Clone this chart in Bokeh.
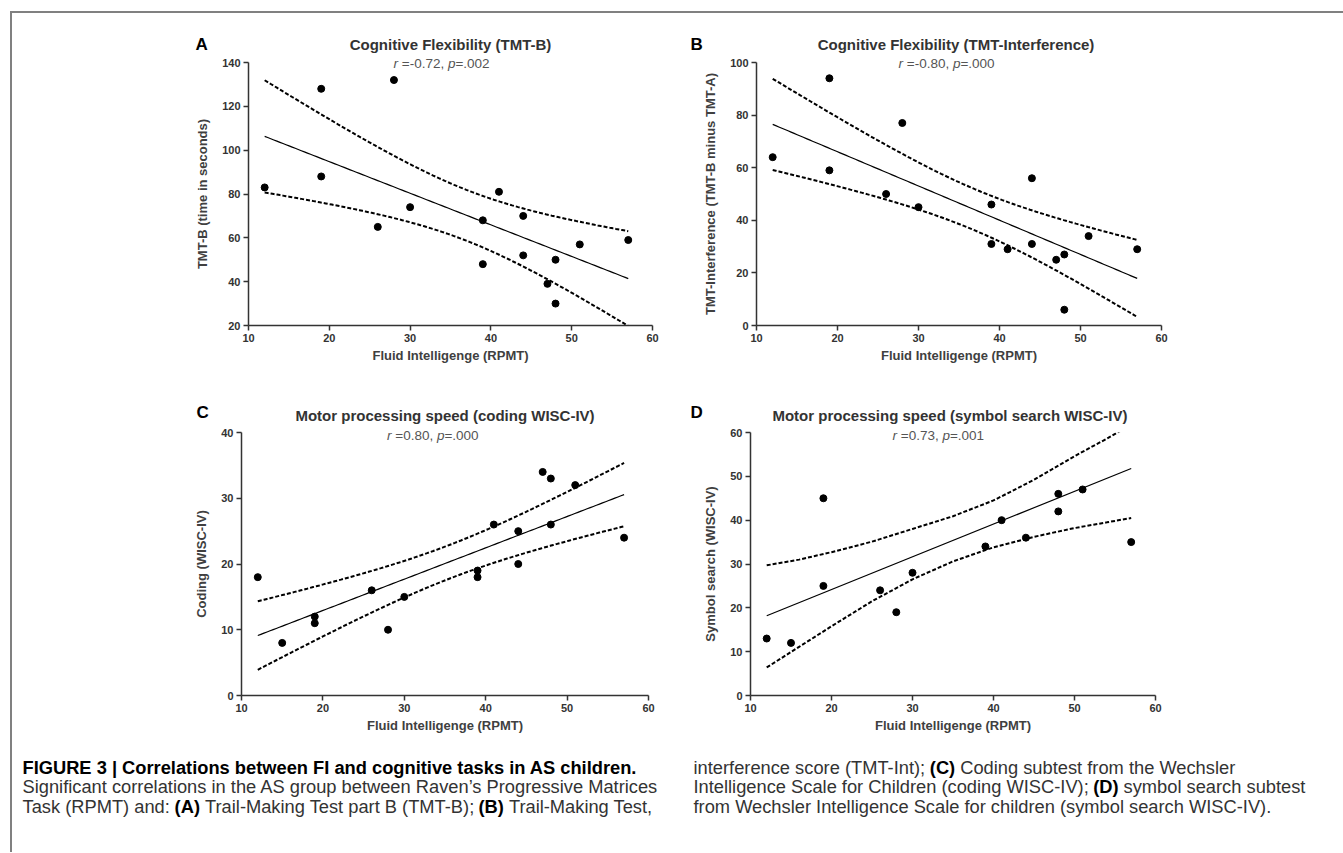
import glob
import numpy as np
from bokeh.plotting import figure
from bokeh.models import Range1d, FixedTicker, GridBox, Spacer
from bokeh.layouts import row, column
from bokeh.embed import file_html
from bokeh.resources import INLINE
from bokeh.core.properties import value

# ---------------- data ----------------
rpmt_a = [12, 19, 19, 26, 28, 30, 39, 39, 41, 44, 44, 47, 48, 48, 51, 57]
tmt_b = [83, 128, 88, 65, 132, 74, 68, 48, 81, 70, 52, 39, 50, 30, 57, 59]

rpmt_b = [12, 19, 19, 26, 28, 30, 39, 39, 41, 44, 44, 47, 48, 48, 51, 57]
tmt_int = [64, 94, 59, 50, 77, 45, 46, 31, 29, 56, 31, 25, 27, 6, 34, 29]

rpmt_c = [12, 15, 19, 19, 26, 28, 30, 39, 39, 41, 44, 44, 47, 48, 48, 51, 57]
coding = [18, 8, 12, 11, 16, 10, 15, 19, 18, 26, 25, 20, 34, 33, 26, 32, 24]

rpmt_d = [12, 15, 19, 19, 26, 28, 30, 39, 41, 44, 48, 48, 51, 57]
symbol = [13, 12, 45, 25, 24, 19, 28, 34, 40, 36, 46, 42, 47, 35]

# panel D: fitted line and 95% band as drawn in the picture
band_x_d = [12, 16, 20, 25, 30, 35, 40, 45, 50, 54, 57]
band_lo_d = [6.4, 11.1, 15.8, 21.5, 26.5, 30.6, 33.8, 36.2, 38.2, 39.5, 40.5]
band_hi_d = [29.7, 31.0, 32.7, 35.1, 38.0, 40.9, 44.5, 49.2, 54.6, 58.6, 61.8]
fit_x_d = [12, 57]
fit_y_d = [18.2, 51.8]

x_ticks = [10, 20, 30, 40, 50, 60]
y_ticks_a = [20, 40, 60, 80, 100, 120, 140]
y_ticks_b = [0, 20, 40, 60, 80, 100]
y_ticks_c = [0, 10, 20, 30, 40]
y_ticks_d = [0, 10, 20, 30, 40, 50, 60]

titles = ["Cognitive Flexibility (TMT-B)",
          "Cognitive Flexibility (TMT-Interference)",
          "Motor processing speed (coding WISC-IV)",
          "Motor processing speed (symbol search WISC-IV)"]
r_values = ["-0.72", "-0.80", "0.80", "0.73"]
p_values = [".002", ".000", ".000", ".001"]
y_labels = ["TMT-B (time in seconds)", "TMT-Interference (TMT-B minus TMT-A)",
            "Coding (WISC-IV)", "Symbol search (WISC-IV)"]
x_label = "Fluid Intelligenge (RPMT)"
letters = ["A", "B", "C", "D"]

# caption rows: list of (text, bold) runs
caption_left = [
    [("FIGURE 3 | Correlations between FI and cognitive tasks in AS children.", True)],
    [("Significant correlations in the AS group between Raven\u2019s Progressive Matrices", False)],
    [("Task (RPMT) and: ", False), ("(A)", True), (" Trail-Making Test part B (TMT-B); ", False),
     ("(B)", True), (" Trail-Making Test,", False)],
]
caption_right = [
    [("interference score (TMT-Int); ", False), ("(C)", True),
     (" Coding subtest from the Wechsler", False)],
    [("Intelligence Scale for Children (coding WISC-IV); ", False), ("(D)", True),
     (" symbol search subtest", False)],
    [("from Wechsler Intelligence Scale for children (symbol search WISC-IV).", False)],
]

# two-sided 95% t critical values by degrees of freedom
T_CRIT = {12: 2.1788, 13: 2.1604, 14: 2.1448, 15: 2.1314}

FONT = "Liberation Sans"
AXIS_COL = "#333333"

# ---------------- font metrics (for placing mixed-style runs) ----------------
try:
    from PIL import ImageFont
except Exception:
    ImageFont = None


def _find(name):
    hits = glob.glob("/usr/share/fonts/**/" + name, recursive=True)
    return hits[0] if hits else None


FONT_FILES = {"normal": _find("LiberationSans-Regular.ttf"),
              "bold": _find("LiberationSans-Bold.ttf"),
              "italic": _find("LiberationSans-Italic.ttf")}
_cache = {}


def run_width(txt, style, size):
    path = FONT_FILES.get(style)
    if ImageFont is not None and path:
        key = (path, size)
        if key not in _cache:
            _cache[key] = ImageFont.truetype(path, int(round(size * 8)))
        return _cache[key].getlength(txt) / 8.0
    return len(txt) * size * (0.56 if style == "bold" else 0.5)


DASH = dict(line_color="black", line_width=2, line_dash="4 2")
SOLID = dict(line_color="black", line_width=1.2)


def panel(x, y, yr, yticks, idx, fw, fh, bl, br, bt, bb, drawn=None):
    p = figure(frame_width=fw, frame_height=fh,
               min_border_left=bl, min_border_right=br,
               min_border_top=bt, min_border_bottom=bb,
               x_range=Range1d(10, 60), y_range=Range1d(*yr),
               output_backend="svg", toolbar_location=None, title=None)
    p.outline_line_color = None
    p.grid.visible = False
    p.background_fill_color = "white"
    p.border_fill_color = "white"

    for ax in (p.xaxis[0], p.yaxis[0]):
        ax.axis_line_color = AXIS_COL
        ax.axis_line_width = 1.5
        ax.major_tick_line_color = AXIS_COL
        ax.major_tick_line_width = 1.5
        ax.major_tick_in = 0
        ax.major_tick_out = 5
        ax.minor_tick_line_color = None
        ax.major_label_text_font = FONT
        ax.major_label_text_font_style = "bold"
        ax.major_label_text_font_size = "11px"
        ax.major_label_text_color = "#333333"
        ax.axis_label_text_font = FONT
        ax.axis_label_text_font_style = "bold"
        ax.axis_label_text_font_size = "13px"
        ax.axis_label_text_color = "#404040"
    p.xaxis.ticker = FixedTicker(ticks=x_ticks)
    p.yaxis.ticker = FixedTicker(ticks=yticks)
    p.xaxis.major_label_standoff = 3
    p.xaxis.axis_label_standoff = 3
    p.yaxis.major_label_standoff = 3
    p.yaxis.axis_label_standoff = 9
    p.xaxis.axis_label = x_label
    p.yaxis.axis_label = y_labels[idx]

    if drawn is None:
        # regression line and its 95% confidence band, computed from the points
        xa = np.array(x, float)
        ya = np.array(y, float)
        n = len(xa)
        slope, icpt = np.polyfit(xa, ya, 1)
        resid = ya - (icpt + slope * xa)
        s = np.sqrt(np.sum(resid ** 2) / (n - 2))
        sxx = np.sum((xa - xa.mean()) ** 2)
        xs = np.linspace(xa.min(), xa.max(), 120)
        fit = icpt + slope * xs
        half = T_CRIT[n - 2] * s * np.sqrt(1.0 / n + (xs - xa.mean()) ** 2 / sxx)
        p.line(xs, fit + half, **DASH)
        p.line(xs, fit - half, **DASH)
        p.line(xs, fit, **SOLID)
    else:
        bx, lo, hi, fx, fy = drawn
        p.line(bx, hi, **DASH)
        p.line(bx, lo, **DASH)
        p.line(fx, fy, **SOLID)
    p.scatter(x, y, size=7, fill_color="black", line_color="black")
    return p


pa = panel(rpmt_a, tmt_b, (20, 140), y_ticks_a, 0, 404, 263, 236, 48, 49, 45)
pb = panel(rpmt_b, tmt_int, (0, 100), y_ticks_b, 1, 405, 263, 53, 185, 49, 45)
pc = panel(rpmt_c, coding, (0, 40), y_ticks_c, 2, 407, 263, 229, 52, 62, 45)
pd = panel(rpmt_d, symbol, (0, 60), y_ticks_d, 3, 405, 263, 47, 191, 62, 45,
           drawn=(band_x_d, band_lo_d, band_hi_d, fit_x_d, fit_y_d))

W, H = 1331, 839
CAP_H = H - 357 - 370
panels = column(row(pa, pb), row(pc, pd), Spacer(width=W, height=CAP_H))

# ---------------- transparent text layer over the panels ----------------
OX, OY = 12, 13          # page position of the layer's top-left corner
ov = figure(width=W, height=H, x_range=Range1d(0, W), y_range=Range1d(H, 0),
            output_backend="svg", toolbar_location=None, title=None,
            x_axis_type=None, y_axis_type=None, min_border=0)
ov.outline_line_color = None
ov.grid.visible = False
ov.background_fill_color = None
ov.border_fill_color = None


def put(txt, px, py, style, size, color, align="left"):
    ov.text(x=[px - OX], y=[py - OY], text=[txt], text_font=value(FONT),
            text_font_style=style, text_font_size=f"{size}px",
            text_color=color, text_baseline="middle", text_align=align)


# panel letters, titles and r/p statistics (page pixel positions)
letter_pos = [(195, 44), (690, 44), (196, 412), (690, 412)]
title_pos = [(450, 44), (955.5, 44), (444.5, 415), (949.5, 415)]
stat_pos = [(393, 63), (898, 63), (386.5, 434.5), (892, 434.5)]
STAT = 13.5
for i in range(4):
    put(letters[i], *letter_pos[i], "bold", 17, "black")
    put(titles[i], *title_pos[i], "bold", 15, "#333333", align="center")
    sx, sy = stat_pos[i]
    runs = [("r", "italic"), (" =" + r_values[i] + ", ", "normal"),
            ("p", "italic"), ("=" + p_values[i], "normal")]
    for txt, style in runs:
        lead = run_width(txt[:len(txt) - len(txt.lstrip())], style, STAT)
        put(txt.strip(), sx + lead, sy, style, STAT, "#555555")
        sx += run_width(txt, style, STAT)

# caption
CAP = 18.3
row_y = [767, 786, 806]
col_x = [22, 693]
for cx, rows in zip(col_x, [caption_left, caption_right]):
    for ry, runs in zip(row_y, rows):
        xx = cx
        for txt, bold in runs:
            style = "bold" if bold else "normal"
            lead = run_width(txt[:len(txt) - len(txt.lstrip())], style, CAP)
            put(txt.strip(), xx + lead, ry, style, CAP,
                "black" if bold else "#333333")
            xx += run_width(txt, style, CAP)

layout = GridBox(children=[(panels, 0, 0), (ov, 0, 0)],
                 margin=(11, 0, 0, 10),
                 styles={"border-left": "2px solid #808080",
                         "border-top": "2px solid #808080"})

open("out.html", "w").write(file_html(layout, INLINE))
